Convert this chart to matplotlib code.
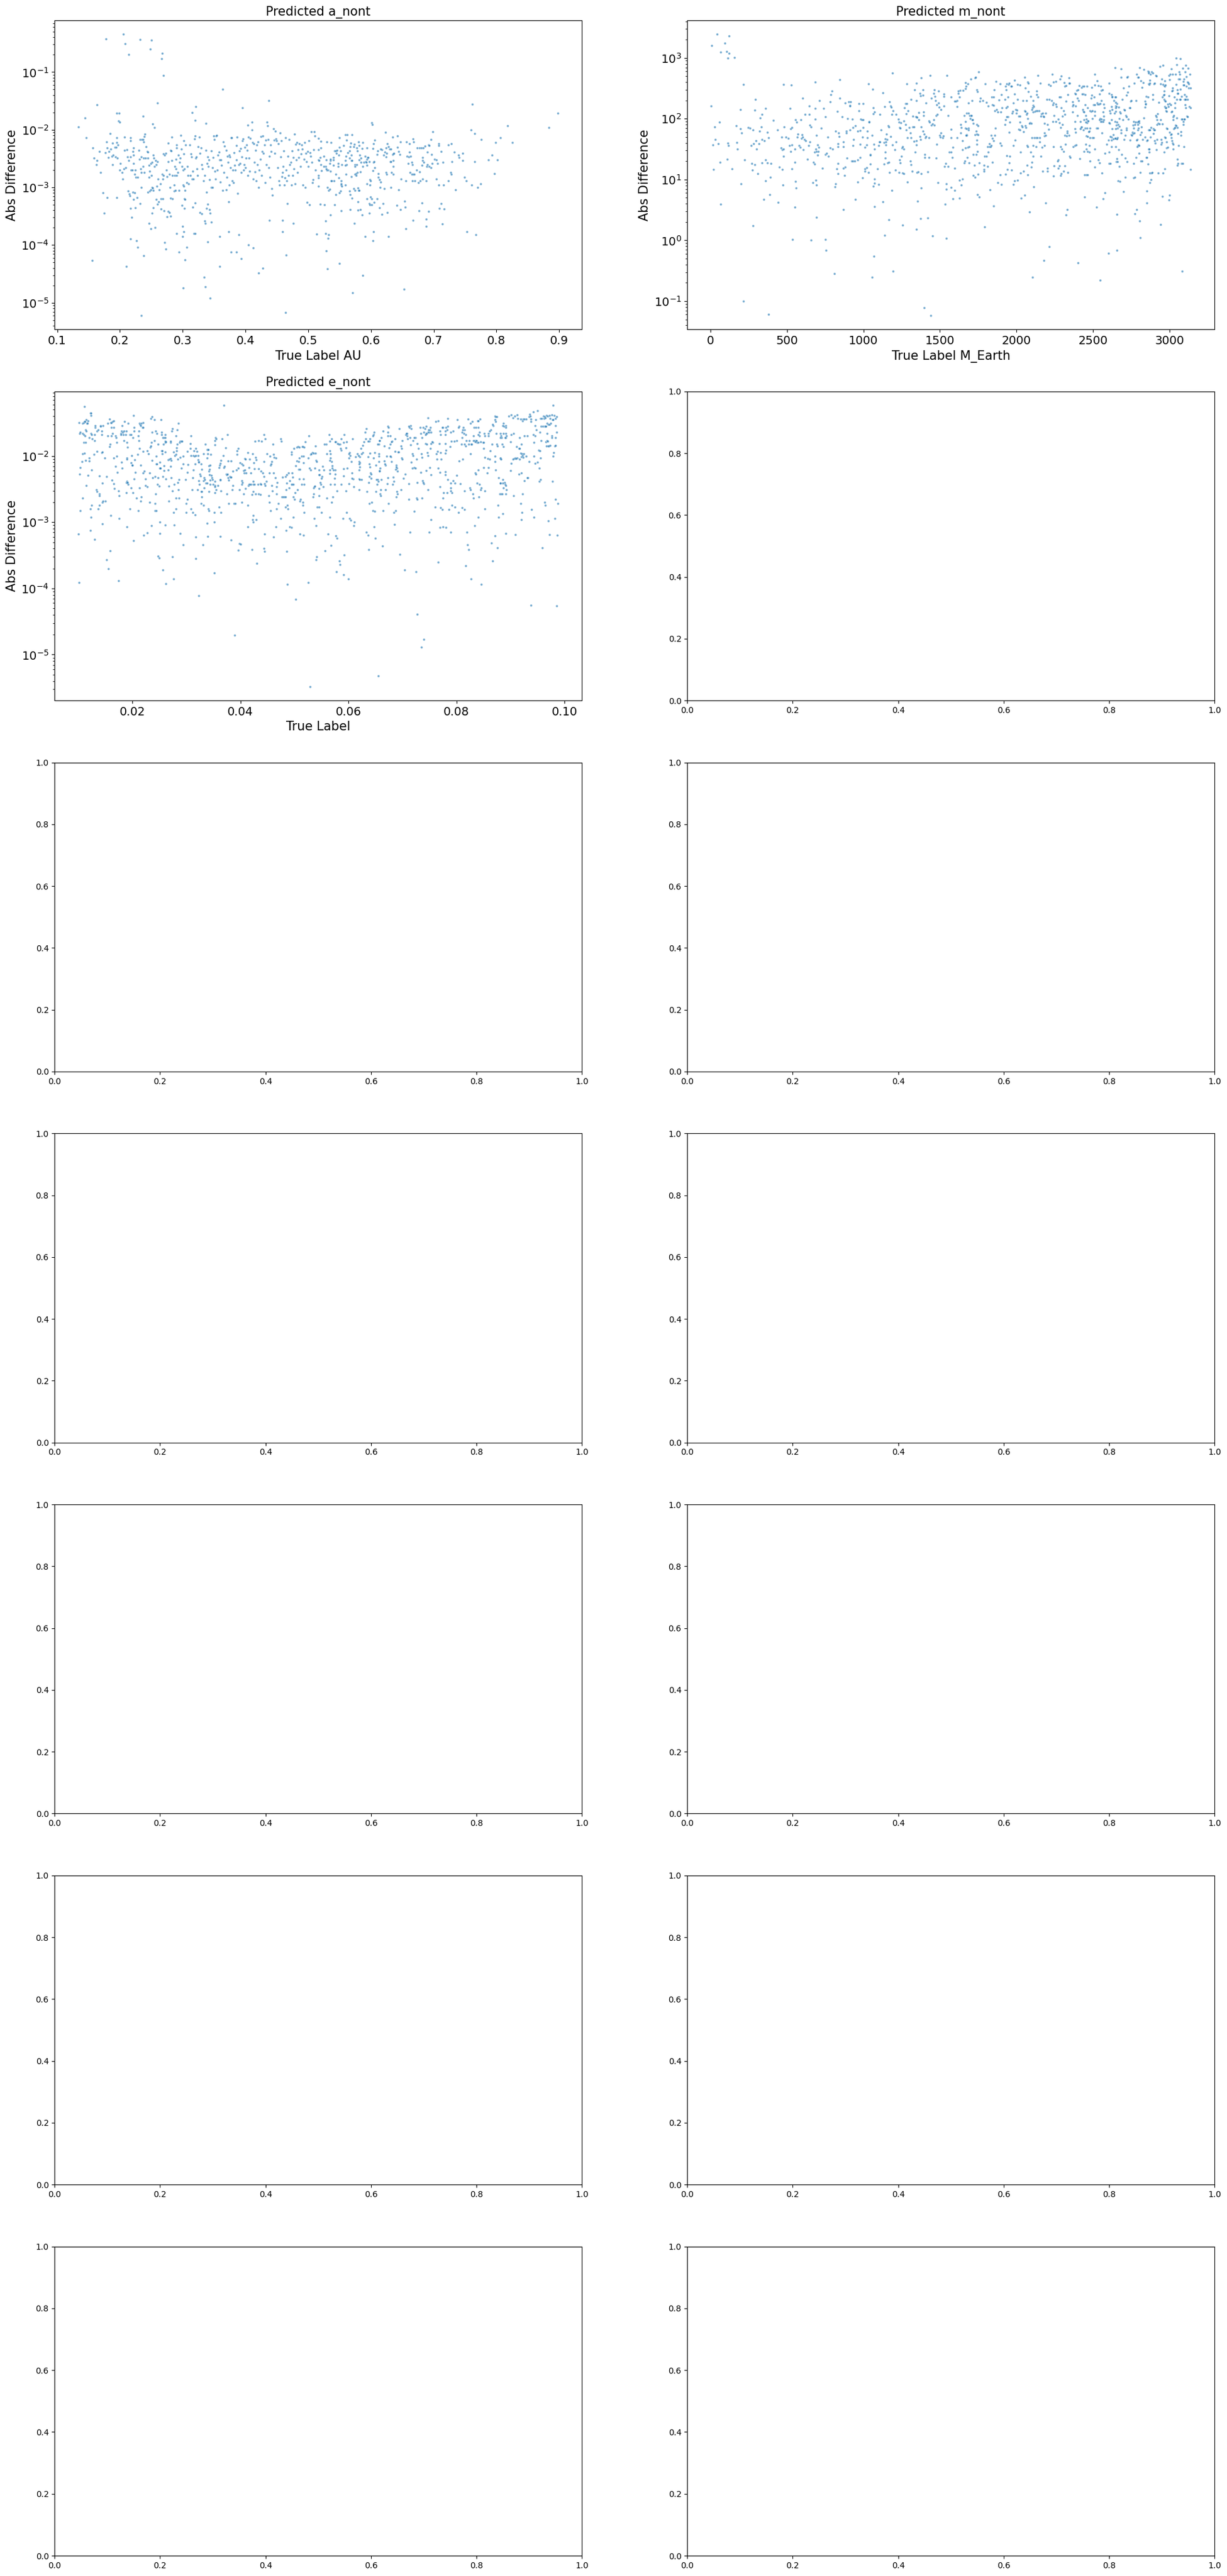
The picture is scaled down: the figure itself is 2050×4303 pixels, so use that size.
import matplotlib
matplotlib.use("Agg")
import matplotlib.pyplot as plt

# (true label, abs difference), one list per target
a_points = [
    (0.178,0.38),(0.205,0.45),(0.208,0.31),(0.214,0.20),(0.232,0.37),(0.250,0.36),(0.248,0.25),(0.267,0.21),
    (0.266,0.17),(0.269,0.087),(0.364,0.050),(0.437,0.032),(0.395,0.024),(0.260,0.029),(0.321,0.025),(0.315,0.020),
    (0.320,0.0147),(0.337,0.013),(0.163,0.027),(0.144,0.016),(0.134,0.0113),(0.146,0.0073),(0.195,0.0196),(0.199,0.0193),
    (0.198,0.0143),(0.200,0.0134),(0.237,0.0174),(0.252,0.0127),(0.255,0.011),(0.404,0.012),(0.410,0.0137),
    (0.156,5.4e-5),(0.210,4.3e-5),(0.234,6.0e-6),(0.238,6.5e-5),(0.217,1.28e-4),(0.226,1.2e-4),(0.228,9.2e-5),(0.175,3.6e-4),
    (0.173,8.1e-4),(0.180,6.7e-4),(0.195,6.6e-4),(0.169,1.8e-3),(0.271,1.1e-4),(0.273,8.5e-5),(0.294,7.5e-5),(0.306,9.1e-5),
    (0.304,5.5e-5),(0.301,1.8e-5),(0.334,2.8e-5),(0.336,1.9e-5),(0.344,1.2e-5),(0.359,4.3e-5),(0.340,1.13e-4),(0.377,7.5e-5),
    (0.386,7.5e-5),(0.393,5.8e-5),(0.405,1.0e-4),(0.412,8.9e-5),(0.421,3.3e-5),(0.428,4.0e-5),(0.464,6.7e-6),(0.465,6.7e-5),
    (0.459,1.7e-4),(0.459,2.7e-4),(0.438,2.7e-4),(0.476,2.4e-4),(0.513,1.55e-4),(0.359,1.4e-4),(0.373,1.7e-4),(0.389,1.5e-4),
    (0.318,1.6e-4),(0.320,1.6e-4),(0.290,1.6e-4),(0.300,2.1e-4),(0.302,1.7e-4),(0.300,1.4e-4),(0.249,1.9e-4),(0.256,2.0e-4),
    (0.246,2.4e-4),(0.219,3.0e-4),
    (0.157,4.8e-3),(0.159,3.2e-3),(0.162,2.5e-3),(0.163,2.9e-3),(0.167,4.2e-3),(0.177,4.0e-3),(0.179,6.2e-3),(0.180,4.8e-3),
    (0.182,4.2e-3),(0.181,3.3e-3),(0.184,8.7e-3),(0.185,4.6e-3),(0.187,3.5e-3),(0.188,5.8e-3),(0.188,2.5e-3),(0.189,3.6e-3),
    (0.192,5.0e-3),(0.193,3.4e-3),(0.194,5.0e-3),(0.195,7.3e-3),(0.195,6.0e-3),(0.197,5.5e-3),(0.196,3.2e-3),(0.200,2.0e-3),
    (0.201,2.6e-3),(0.203,1.8e-3),(0.204,1.4e-3),(0.207,7.4e-3),(0.207,4.4e-3),(0.206,2.1e-3),(0.209,2.2e-3),(0.211,4.5e-3),
    (0.212,3.4e-3),(0.214,2.9e-3),(0.217,7.3e-3),(0.217,6.5e-3),(0.217,3.4e-3),(0.218,2.0e-3),(0.213,8.7e-4),(0.215,7.7e-4),
    (0.216,7.2e-4),(0.217,4.3e-4),(0.220,2.0e-3),(0.221,4.2e-3),(0.222,4.8e-3),(0.222,3.6e-3),(0.222,2.6e-3),(0.223,1.7e-3),
    (0.224,2.0e-3),(0.225,1.5e-3),(0.221,8.3e-4),(0.223,8.0e-4),(0.222,6.2e-4),(0.224,4.4e-4),(0.227,6.7e-4),
    (0.228,1.5e-3),(0.230,4.4e-3),(0.231,3.1e-3),(0.232,6.7e-3),(0.233,2.1e-3),(0.234,1.8e-3),(0.234,3.4e-3),(0.234,1.0e-3),
    (0.232,5.3e-4),(0.235,6.8e-3),(0.237,6.8e-3),(0.238,6.2e-3),(0.239,7.6e-3),(0.240,8.4e-3),(0.237,2.3e-3),(0.238,3.2e-3),
    (0.239,1.8e-3),(0.241,3.2e-3),(0.242,5.1e-3),(0.243,4.2e-3),(0.244,4.1e-3),(0.244,3.2e-3),(0.246,2.4e-3),(0.247,1.9e-3),
    (0.246,1.5e-3),(0.244,8.3e-4),(0.247,8.7e-4),(0.249,9.0e-4),(0.251,1.0e-3),(0.253,8.9e-4),(0.252,9.8e-4),(0.250,1.6e-3),
    (0.249,2.6e-3),(0.251,2.7e-3),(0.253,3.6e-3),(0.254,3.2e-3),(0.255,2.3e-3),(0.257,2.9e-3),(0.258,2.5e-3),(0.260,2.8e-3),
    (0.259,1.05e-3),(0.261,1.4e-3),(0.262,5.6e-4),(0.258,6.2e-4),(0.260,5.1e-4),(0.251,3.6e-4),(0.253,4.4e-4),
    (0.263,9.0e-4),(0.264,1.15e-3),(0.267,1.7e-3),(0.268,1.4e-3),(0.265,6.4e-4),(0.268,6.4e-4),(0.265,4.2e-4),(0.270,3.9e-4),
    (0.269,1.6e-3),(0.269,3.8e-3),(0.271,3.6e-3),(0.273,3.9e-3),(0.274,2.0e-3),(0.275,1.55e-3),(0.277,5.8e-3),(0.277,2.8e-3),
    (0.279,1.7e-3),(0.280,1.0e-3),(0.281,4.4e-3),(0.282,4.3e-3),(0.283,2.9e-3),(0.283,7.4e-3),(0.284,1.6e-3),(0.286,1.1e-3),
    (0.286,8.7e-4),(0.287,1.6e-3),(0.287,2.3e-3),(0.288,8.9e-4),(0.289,2.1e-3),(0.290,5.5e-3),(0.290,4.9e-3),(0.289,3.1e-3),
    (0.290,1.6e-3),(0.281,6.5e-4),(0.284,6.4e-4),(0.277,3.8e-4),(0.279,3.7e-4),(0.281,3.2e-4),(0.275,3.1e-4),
    (0.292,1.8e-3),(0.293,3.6e-3),(0.294,8.8e-4),(0.295,2.7e-3),(0.296,3.2e-3),(0.297,8.0e-3),(0.298,4.6e-3),(0.299,2.3e-3),
    (0.301,2.0e-3),(0.301,1.1e-3),(0.302,1.05e-3),(0.302,6.4e-3),(0.302,3.8e-3),(0.303,2.1e-3),(0.304,8.8e-4),(0.305,5.5e-3),
    (0.306,1.2e-3),(0.307,2.3e-3),(0.308,1.6e-3),(0.309,1.15e-3),(0.311,5.5e-3),(0.312,1.6e-3),(0.313,3.8e-3),(0.314,3.4e-3),
    (0.315,1.4e-3),(0.316,1.9e-3),(0.317,1.4e-3),(0.319,6.9e-3),(0.320,7.8e-3),(0.321,3.2e-3),(0.322,3.4e-3),(0.323,2.1e-3),
    (0.324,1.6e-3),(0.303,6.4e-4),(0.304,6.2e-4),(0.299,4.9e-4),(0.303,4.3e-4),(0.316,4.5e-4),(0.320,5.4e-4),
    (0.325,5.1e-3),(0.326,7.4e-3),(0.327,3.9e-3),(0.329,4.9e-3),(0.330,2.5e-3),(0.331,2.1e-3),(0.333,1.3e-3),(0.335,1.6e-3),
    (0.327,3.7e-4),(0.330,3.5e-4),(0.335,2.6e-4),(0.336,2.4e-4),(0.338,4.3e-4),(0.340,5.1e-4),(0.343,4.1e-4),(0.344,3.6e-4),
    (0.346,2.5e-4),(0.337,4.4e-3),(0.338,8.3e-4),(0.339,2.6e-3),(0.340,3.4e-3),(0.341,2.3e-3),(0.342,3.0e-3),(0.343,1.35e-3),
    (0.346,1.0e-3),(0.347,9.9e-4),(0.346,4.3e-3),(0.347,2.2e-3),(0.348,3.3e-3),(0.349,7.9e-3),(0.350,6.7e-3),(0.351,1.9e-3),
    (0.352,1.4e-3),(0.353,7.8e-3),(0.354,8.0e-3),(0.355,2.0e-3),(0.356,3.6e-3),(0.358,4.1e-3),(0.359,3.0e-3),(0.360,1.25e-3),
    (0.361,3.0e-3),(0.362,2.4e-3),
    (0.364,8.8e-4),(0.365,6.2e-3),(0.366,1.8e-3),(0.367,5.2e-3),(0.369,9.0e-4),(0.369,4.4e-3),(0.370,1.5e-3),(0.371,3.5e-3),
    (0.372,2.7e-3),(0.373,5.6e-4),(0.374,3.6e-3),(0.374,1.1e-3),(0.375,3.4e-3),(0.376,2.2e-3),(0.377,7.2e-3),(0.378,7.3e-3),
    (0.379,1.3e-3),(0.380,2.0e-3),(0.381,1.2e-3),(0.382,4.0e-3),(0.383,2.4e-3),(0.384,2.0e-3),(0.386,3.0e-3),(0.386,5.3e-3),
    (0.387,7.4e-3),(0.388,7.8e-4),(0.389,2.5e-3),(0.390,4.3e-3),(0.391,2.6e-3),(0.392,4.7e-3),(0.393,1.8e-3),(0.394,3.4e-3),
    (0.395,6.4e-3),(0.396,7.0e-3),(0.397,2.0e-3),(0.398,2.5e-3),(0.399,5.0e-3),(0.400,2.2e-3),(0.401,3.2e-3),
    (0.402,5.4e-3),(0.403,4.4e-3),(0.404,1.6e-3),(0.405,7.5e-3),(0.406,3.2e-3),(0.407,1.9e-3),(0.408,7.1e-3),(0.410,1.0e-2),
    (0.411,6.0e-3),(0.412,1.4e-3),(0.413,5.7e-3),(0.414,2.7e-3),(0.415,1.85e-3),(0.416,4.4e-3),(0.417,1.3e-3),(0.418,5.5e-3),
    (0.419,2.5e-3),(0.420,6.1e-3),(0.421,1.0e-3),(0.422,2.0e-3),(0.424,3.1e-3),(0.425,7.6e-3),(0.426,1.6e-3),(0.427,4.2e-3),
    (0.428,7.9e-3),(0.429,3.9e-3),(0.430,5.4e-3),(0.431,1.2e-3),(0.432,6.6e-3),(0.433,2.5e-3),(0.434,1.37e-2),(0.435,1.18e-2),
    (0.436,6.8e-3),(0.437,2.2e-3),(0.438,3.5e-3),(0.439,1.5e-3),(0.440,5.4e-3),(0.441,4.2e-3),(0.442,9.5e-4),(0.443,7.3e-4),
    (0.445,1.05e-2),(0.446,6.6e-3),(0.447,3.9e-3),(0.448,9.4e-3),(0.449,6.9e-3),(0.450,6.5e-3),(0.451,2.2e-3),(0.452,5.7e-3),
    (0.453,1.3e-3),(0.454,1.1e-3),(0.455,8.8e-3),(0.456,3.4e-3),(0.457,6.5e-3),(0.458,1.55e-3),(0.459,1.8e-3),(0.460,2.3e-3),
    (0.461,4.3e-3),(0.462,1.1e-3),(0.463,1.45e-3),(0.464,7.3e-3),(0.465,2.0e-3),(0.466,1.3e-3),(0.467,5.3e-4),(0.468,3.5e-3),
    (0.469,1.6e-3),(0.470,6.7e-3),(0.471,2.5e-3),(0.472,2.7e-3),(0.473,1.1e-3),(0.474,4.3e-3),(0.475,1.6e-3),(0.476,3.3e-3),
    (0.477,2.1e-3),(0.478,8.4e-3),(0.479,1.15e-3),(0.480,5.6e-3),
    (0.481,3.0e-3),(0.482,6.0e-3),(0.483,1.8e-3),(0.484,4.5e-3),(0.485,3.3e-3),(0.486,5.7e-3),(0.488,2.3e-3),(0.489,3.8e-3),
    (0.490,5.5e-3),(0.491,4.6e-3),(0.492,1.1e-3),(0.493,3.1e-3),(0.494,6.0e-3),(0.495,1.0e-3),(0.496,3.9e-3),(0.497,2.8e-3),
    (0.498,5.5e-4),(0.499,4.2e-3),(0.500,2.3e-3),(0.501,6.5e-3),(0.502,5.0e-4),(0.503,4.0e-3),(0.504,3.5e-3),(0.505,9.2e-3),
    (0.506,2.7e-3),(0.507,1.2e-3),(0.508,1.35e-3),(0.509,4.5e-3),(0.510,9.3e-3),(0.511,7.9e-3),(0.512,2.0e-3),
    (0.762,0.028),(0.898,0.0196),(0.818,0.0118),(0.884,0.011),(0.760,0.010),(0.765,0.0087),(0.776,0.0067),(0.806,0.0073),
    (0.799,0.0060),(0.825,0.0060),(0.793,0.0036),(0.787,0.0030),(0.802,0.0030),(0.765,0.0028),(0.797,0.00175),(0.749,0.0015),
    (0.752,0.0013),(0.761,0.0011),(0.770,0.0010),(0.775,0.00115),(0.735,0.0009),(0.753,1.7e-4),(0.767,1.5e-4),
    (0.601,0.0133),(0.602,0.0124),(0.699,0.0093),(0.696,0.0067),(0.728,0.0057),(0.723,0.0055),(0.708,0.0057),(0.708,0.0053),
    (0.733,0.0041),(0.740,0.0036),(0.741,0.0033),(0.746,0.0039),(0.746,0.0029),(0.729,0.0028),(0.712,0.0042),(0.715,0.0027),
    (0.727,0.0018),(0.728,0.0017),(0.723,0.0013),(0.716,0.0011),(0.708,0.0011),(0.704,0.0014),(0.706,0.0026),(0.701,0.0031),
    (0.704,0.0030),(0.697,0.0037),(0.692,0.0055),(0.693,0.0053),(0.686,0.0052),(0.690,0.0041),(0.674,0.0049),(0.678,0.0049),
    (0.680,0.0049),(0.683,0.0049),(0.682,0.0033),(0.682,0.0029),(0.684,0.0027),(0.689,0.0023),(0.693,0.0023),(0.696,0.0022),
    (0.690,0.0025),(0.698,0.0026),(0.681,0.0024),(0.678,0.00185),(0.673,0.0020),(0.676,0.0012),(0.679,0.0013),(0.682,0.0014),
    (0.688,0.0013),(0.681,5.4e-4),(0.677,3.9e-4),(0.692,3.8e-4),(0.688,2.8e-4),(0.688,2.1e-4),(0.667,2.7e-4),(0.656,1.9e-4),
    (0.709,4.3e-4),(0.712,5.2e-4),(0.717,4.2e-4),(0.714,2.3e-4),
    (0.657,0.0061),(0.661,0.0057),(0.667,0.0069),(0.668,0.0061),(0.661,0.0041),(0.658,0.0035),(0.660,0.0034),(0.663,0.0035),
    (0.659,0.0026),(0.662,0.0018),(0.665,0.0027),(0.666,0.0025),(0.665,0.0017),(0.667,0.0017),(0.669,0.0017),(0.656,0.0013),
    (0.666,0.0013),(0.670,0.0013),(0.648,0.0014),(0.644,9.0e-4),(0.654,5.8e-4),(0.655,4.5e-4),(0.641,4.9e-4),(0.647,4.1e-4),
    (0.635,0.0075),(0.642,0.0078),(0.647,0.0062),(0.623,0.0090),(0.626,0.0057),(0.628,0.0051),(0.624,0.0048),(0.622,0.0041),
    (0.625,0.0039),(0.624,0.0034),(0.630,0.0046),(0.632,0.0046),(0.635,0.0037),(0.636,0.0038),(0.637,0.0039),(0.642,0.0050),
    (0.644,0.0042),(0.646,0.0037),(0.631,0.0028),(0.632,0.0028),(0.636,0.0029),(0.636,0.0023),(0.633,0.0018),(0.636,0.0017),
    (0.624,0.0018),(0.625,0.0017),(0.632,0.0010),(0.621,9.6e-4),(0.615,0.0010),(0.614,0.00135),(0.616,0.00125),(0.612,0.00175),
    (0.612,0.0015),(0.610,0.0037),(0.611,0.0043),(0.617,0.0045),(0.616,0.0046),(0.620,0.0036),(0.604,0.0057),(0.606,0.0066),
    (0.603,0.0047),(0.604,0.0027),(0.605,0.0028),(0.606,0.0022),(0.603,0.00195),(0.598,0.00135),(0.599,0.0013),(0.598,0.0011),
    (0.594,0.00115),(0.605,5.5e-4),(0.610,6.4e-4),(0.597,5.2e-4),(0.598,5.0e-4),(0.601,5.0e-4),(0.599,6.8e-4),(0.601,6.4e-4),
    (0.594,6.4e-4),(0.614,4.4e-4),(0.619,5.3e-4),(0.617,3.4e-4),(0.626,3.7e-4),(0.597,3.6e-4),(0.604,1.7e-4),(0.603,1.2e-4),
    (0.591,1.4e-4),(0.628,1.4e-4),(0.587,3.0e-5),(0.571,1.5e-5),(0.653,1.7e-5),(0.550,4.8e-5),(0.531,3.9e-5),(0.529,8.0e-5),
    (0.528,1.6e-4),(0.532,1.3e-4),(0.533,1.5e-4),(0.528,2.6e-4),(0.535,3.3e-4),(0.519,5.1e-4),(0.526,5.0e-4),(0.542,5.0e-4),
    (0.553,3.9e-4),(0.567,4.1e-4),(0.579,4.0e-4),(0.583,4.1e-4),(0.586,3.3e-4),(0.574,2.4e-4),(0.579,5.6e-4),(0.570,6.5e-4),
    (0.567,7.5e-4),(0.566,8.7e-4),(0.544,7.5e-4),(0.550,8.1e-4),(0.552,8.7e-4),(0.533,8.8e-4),(0.534,9.3e-4),(0.531,1.0e-3),
    (0.553,1.1e-3),(0.554,1.05e-3),(0.553,1.15e-3),(0.559,1.1e-3),(0.549,1.45e-3),(0.553,1.3e-3),(0.544,1.7e-3),(0.536,1.3e-3),
    (0.537,1.3e-3),(0.541,1.3e-3),(0.535,1.9e-3),(0.532,2.0e-3),(0.530,2.0e-3),(0.529,2.1e-3),(0.528,2.3e-3),(0.525,2.3e-3),
    (0.520,2.5e-3),(0.521,1.95e-3),(0.516,1.45e-3),(0.516,1.6e-3),(0.516,1.05e-3),(0.534,2.6e-3),(0.535,2.9e-3),(0.540,2.4e-3),
    (0.525,3.5e-3),(0.519,3.3e-3),(0.529,3.0e-3),(0.535,3.1e-3),(0.540,3.3e-3),(0.540,3.0e-3),(0.516,3.0e-3),(0.517,2.9e-3),
    (0.520,4.9e-3),(0.516,4.5e-3),(0.520,6.3e-3),(0.530,6.1e-3),(0.536,6.0e-3),(0.516,7.1e-3),(0.550,7.3e-3),(0.559,8.2e-3),
    (0.562,8.2e-3),(0.570,8.2e-3),(0.561,6.6e-3),(0.556,5.3e-3),(0.568,5.8e-3),(0.567,5.1e-3),(0.573,5.1e-3),(0.574,5.6e-3),
    (0.580,6.1e-3),(0.587,6.0e-3),(0.581,5.3e-3),(0.577,4.8e-3),(0.586,4.7e-3),(0.594,4.9e-3),(0.542,4.3e-3),(0.544,4.3e-3),
    (0.546,4.4e-3),(0.552,4.3e-3),(0.545,3.9e-3),(0.549,3.6e-3),(0.550,5.0e-3),(0.563,4.0e-3),(0.566,4.3e-3),(0.560,3.5e-3),
    (0.566,3.2e-3),(0.569,3.6e-3),(0.569,2.9e-3),(0.570,2.9e-3),(0.578,4.3e-3),(0.582,3.6e-3),(0.584,3.2e-3),(0.581,3.0e-3),
    (0.584,2.7e-3),(0.589,2.7e-3),(0.591,3.5e-3),(0.592,2.8e-3),(0.593,2.75e-3),(0.594,3.1e-3),(0.595,3.3e-3),(0.596,3.3e-3),
    (0.597,2.8e-3),(0.559,2.9e-3),(0.561,2.5e-3),(0.559,2.4e-3),(0.554,2.5e-3),(0.548,2.6e-3),(0.548,2.3e-3),(0.575,2.5e-3),
    (0.575,2.3e-3),(0.577,2.5e-3),(0.587,2.3e-3),(0.583,1.85e-3),(0.578,1.8e-3),(0.576,1.75e-3),(0.575,1.7e-3),(0.576,1.6e-3),
    (0.569,1.55e-3),(0.560,1.7e-3),(0.594,2.4e-3),(0.573,9.5e-4),(0.575,8.8e-4),(0.579,9.8e-4),(0.580,8.8e-4),(0.581,8.9e-4),
]

m_points = [
    (44,2440),(123,2280),(9,1620),(95,1740),(68,1245),(107,1290),(123,1205),(115,985),(158,1030),
    (216,365),(5,164),(478,365),(529,360),(686,406),(846,445),(604,220),(295,206),(197,143),(291,140),(361,147),(338,117),
    (326,102),(412,95),(521,147),(60,87),(29,74),(169,76),(197,68),(205,59),(33,46),(17,37),(52,39),(115,40),(119,36),
    (173,41),(177,32),(64,19.4),(111,21.8),(21,14.8),(142,15.1),(201,8.6),(68,3.9),(224,21.3),(248,72),(259,70),(279,66),
    (267,36),(283,39),(299,44),(318,39),(302,32),(322,62),(334,74),(338,46),(353,44),(373,60),(381,49),(271,18.6),(291,17.5),
    (275,14.2),(310,12.6),(338,19),(361,21.3),(373,19),(396,18.6),(361,9.6),(392,11.0),(349,4.7),(388,5.7),(443,4.2),
    (279,1.75),(553,3.5),(216,0.10),(381,0.061),(537,1.04),(658,1.02),(752,1.04),(756,0.68),(694,2.4),(811,0.286),(869,3.2),
    (948,4.7),(1069,0.55),(1057,0.25),(1073,3.6),(1194,0.31),(1128,4.3),(1167,2.2),(1139,1.22),(1257,1.8),(1347,1.53),
    (1374,2.3),(1421,2.35),(1452,1.17),(1542,1.09),(1397,0.077),(1440,0.058),(1354,4.4),(1534,3.9),(1378,7.2),(1487,9.0),
    (1542,7.0),(1186,6.7),
    (439,66),(467,50),(463,33),(471,31),(478,32),(478,24.4),(451,15.9),(471,14.8),(475,8.2),(482,74),(494,50),(510,48),
    (518,36),(525,29),(533,37),(525,68),(533,72),(557,96),(565,88),(572,56),(568,50),(553,32),(553,19.4),(533,15.1),(557,9.4),
    (561,7.2),(592,96),(580,36),(588,34),(596,48),(604,50),(600,55),(615,46),(623,44),(608,31),(643,36),(650,42),(619,117),
    (647,164),(647,119),(650,78),(658,74),(635,21.8),(674,19.4),(682,18),(670,9.0),(690,9.8),(694,8.2),(686,147),(686,99),
    (694,54),(701,37),(709,34),(690,32),(682,28.5),(694,29),(705,29),(701,25),(713,197),(725,70),(740,147),(752,109),
    (733,15.5),(752,26),(760,27),(772,24),(768,50),(783,33),(783,189),(787,248),(795,289),(799,32),(819,62),(831,133),
    (838,58),(842,51),(834,39),(834,35),(826,15.1),(834,18.6),(834,12.6),(815,7.6),(819,8.6),(846,216),(862,107),(870,42),
    (870,35),(870,15.5),(881,15.9),(877,11.6),(881,183),(889,62),(889,59),(893,22.6),(897,100),(905,190),(912,165),(912,162),
    (916,190),(912,65),(924,20),(928,99),(932,20),(944,20),(932,72),(936,46),(932,36),(948,77),(963,63),(963,21.3),(963,9.2),
    (971,176),(971,135),(979,64),(979,38),(979,23),(983,99),(991,97),(999,97),(995,50),(999,176),(999,72),(995,10.6),
    (1010,34),(1010,15),(1010,13.6),(1022,37),(1026,62),(1026,49),(1022,15.8),(1034,13.1),(1034,372),(1038,90),(1038,88),
    (1046,26),(1046,25),(1046,18),(1057,54),(1061,305),(1065,152),(1065,122),(1073,130),(1069,38),(1073,32),(1065,7.8),
    (1073,10.2),(1073,8.7),(1092,15.1),(1100,8.3),(1100,36),(1104,42),(1108,42),(1108,117),(1116,65),(1128,270),(1139,160),
    (1135,41),(1135,18),(1143,28),(1143,22.8),(1143,47),(1147,42),(1147,37),(1151,56),(1155,46),(1163,76),(1167,74),
    (1159,19),(1167,19.4),(1171,13.1),(1171,190),(1178,164),(1182,155),(1186,117),(1178,51),(1190,37),(1194,135),(1190,570),
    (1206,31),(1210,14.2),(1214,117),(1214,42),(1229,99),(1233,88),(1237,71),(1241,70),(1233,13.1),(1245,86),(1237,21.3),
    (1241,19),(1249,24),(1253,33),(1257,35),(1264,32),(1257,12.8),(1264,12.5),(1264,93),(1268,152),(1276,176),(1284,176),
    (1280,122),(1280,66),(1276,80),(1288,49),(1284,372),(1288,9.2),(1292,135),(1300,72),(1308,20),(1311,17.5),(1308,59),
    (1311,49),(1311,206),(1319,13.6),(1323,74),(1331,74),(1323,111),(1331,43),(1335,300),(1339,28),(1343,108),(1347,109),
    (1347,201),(1347,388),(1347,44),(1347,37),(1351,13.1),(1358,13.4),(1351,105),(1362,96),(1362,127),(1370,264),(1374,240),
    (1378,466),(1378,74),(1370,51),(1374,46),(1378,12.5),(1390,300),(1390,243),(1394,129),(1394,112),(1390,63),(1397,56),
    (1401,26),(1401,23.3),(1405,49),(1409,183),(1409,51),(1421,13.4),(1429,93),(1433,88),(1429,49),(1429,23.3),(1437,521),
    (1445,78),(1445,220),(1452,82),(1464,78),(1460,264),(1468,233),(1460,96),(1464,300),(1472,197),(1476,114),(1480,169),
    (1484,117),(1492,183),(1480,38),(1476,22.8),(1495,155),(1507,143),(1492,288),(1499,54),(1503,50),(1507,59),(1519,49),
    (1523,52),(1524,255),(1524,233),(1527,164),(1531,16.5),(1554,16.3),(1538,18.6),(1542,8.5),(1546,510),(1554,112),(1562,28),
    (1753,597),(1730,466),(1734,477),(1702,446),(1683,372),(1667,390),(1671,340),(1667,310),(1651,290),(1632,290),(1620,285),
    (1620,260),(1628,226),(1612,197),(1604,193),(1597,193),(1612,160),(1573,226),(1741,296),(1745,280),(1765,216),(1761,193),
    (1780,197),(1796,372),(1804,188),(1816,164),(1839,230),(1851,226),(1855,296),(1866,415),(1894,372),(1902,250),(1886,203),
    (1843,170),(1851,166),(1859,135),(1870,141),(1878,128),(1898,128),(1906,150),(1925,206),(1929,340),(1937,372),(1933,300),
    (1949,363),(1953,380),(1964,340),(1968,345),(1945,226),(1941,160),(1933,152),(1945,107),(1937,107),(1929,97),(1925,81),
    (1956,87),(1953,60),(1988,434),(1988,255),(1980,180),(1976,131),(1972,125),(1999,125),(1996,141),(2003,139),(2007,206),
    (2007,363),(2023,355),(2015,110),(2023,110),(2023,88),(2015,67),(2023,65),(2035,76),(2039,74),(2043,197),(2066,197),
    (2054,477),(2058,322),(2054,135),(2058,131),(2066,117),(2070,125),(2046,61),(2058,76),(2062,72),(2074,406),(2078,388),
    (2078,280),(2093,233),(2089,86),(2085,84),(2097,84),(2074,100),(2109,197),(2109,166),(2113,160),(2105,152),(2101,141),
    (2132,285),(2132,250),(2140,226),(2109,128),(2121,131),(2128,135),(2136,135),(2148,135),(2156,388),(2140,510),(2160,110),
    (2176,110),(2179,107),(2164,122),(2172,125),(2183,84),(2191,125),(2199,208),(2215,206),(2203,80),(2211,67),(2183,52),
    (2191,53),(2183,59),(2234,545),(2242,406),(2258,415),(2211,363),(2222,350),(2230,197),(2242,180),(2238,170),(2258,173),
    (2262,160),(2246,112),(2238,91),(2258,91),(2273,99),(2285,455),(2293,505),(2312,397),(2316,340),(2324,352),(2344,380),
    (2348,388),(2344,472),(2289,230),(2281,226),(2293,150),(2308,135),(2316,117),(2301,110),(2281,86),(2289,72),(2301,80),
    (2324,193),(2336,250),(2332,62),(2332,59),(2316,53),(2344,53),(2367,190),(2367,162),(2371,170),(2367,128),(2383,264),
    (2387,258),(2395,290),(2402,300),(2398,216),(2406,197),(2387,162),(2383,89),(2383,68),(2387,60),(2398,112),(2418,89),
    (2422,72),(2426,74),(2418,68),(2410,352),(2426,330),(2434,340),(2442,345),(2461,345),(2438,255),(2430,258),(2449,250),
    (2434,141),(2438,131),(2442,128),(2449,170),(2465,152),(2453,112),(2457,99),(2465,93),(2469,93),(2461,86),(2453,88),
    (2442,96),(2438,66),(2449,70),(2461,70),(2481,70),(2477,62),(2473,61),(2457,52),(2465,51),(2481,49),(2496,49),(2504,49),
    (2481,135),(2488,131),(2496,135),(2492,243),(2488,216),(2504,170),(2512,170),(2512,131),(2512,112),(2496,100),(2492,330),
    (2508,226),(2512,355),(2512,545),(2527,420),(2527,180),(2531,173),(2539,173),(2547,176),(2543,258),(2535,352),(2551,345),
    (2555,290),(2563,300),(2555,197),(2547,100),(2555,99),(2559,91),(2543,97),(2551,89),(2568,89),(2571,97),(2559,59),
    (2571,110),(2575,152),(2568,128),(2571,173),(2524,70),(2531,70),
    (2606,388),(2606,264),(2621,250),(2625,233),(2625,226),(2621,160),(2625,141),(2610,135),(2614,125),(2621,97),(2610,84),
    (2606,86),(2625,68),(2621,50),(2614,51),(2633,55),(2637,197),(2645,230),(2645,700),(2649,226),(2649,164),(2653,160),
    (2649,150),(2657,176),(2649,188),(2641,125),(2649,131),(2645,89),(2657,88),(2653,78),(2661,70),(2649,68),(2653,48),
    (2649,48),(2665,80),(2672,75),(2661,49),(2657,47),(2669,155),(2676,128),(2680,125),(2672,100),(2684,655),(2684,487),
    (2684,66),(2684,59),(2692,206),(2696,97),(2700,320),(2704,141),(2707,139),(2704,46),(2711,53),(2715,112),(2719,107),
    (2719,243),(2727,275),(2727,497),(2723,487),(2719,70),(2719,65),(2731,99),(2735,340),(2739,152),(2743,150),(2747,193),
    (2743,45),(2750,197),(2750,55),(2754,54),(2758,60),(2762,57),(2762,78),(2766,70),(2766,91),(2770,59),(2770,388),(2774,80),
    (2778,88),(2782,197),(2786,535),(2789,88),(2793,477),(2797,477),(2793,66),(2797,70),(2801,86),(2801,93),(2797,89),
    (2793,81),(2789,46),(2793,36),(2797,37),(2801,36),(2805,700),(2809,55),(2813,420),(2817,74),(2817,60),(2821,330),
    (2825,46),(2829,397),(2833,640),(2833,104),(2840,193),(2844,176),(2846,173),(2840,50),(2840,155),(2848,233),(2852,44),
    (2856,45),(2860,610),(2862,585),(2864,565),(2860,230),(2864,372),(2868,363),(2872,380),(2864,65),(2868,66),(2872,65),
    (2864,32),(2868,32),(2872,434),(2876,545),(2876,50),(2880,72),(2883,585),(2891,570),(2895,68),(2899,66),(2903,66),
    (2891,250),(2895,57),(2891,206),(2899,372),(2903,388),(2911,520),(2915,505),(2915,107),(2911,112),(2919,97),(2919,80),
    (2926,84),(2934,83),(2919,46),(2915,31),(2907,40),(2903,44),(2922,122),(2930,188),(2938,720),(2942,372),(2942,97),
    (2946,46),(2946,38),(2950,41),(2950,455),(2954,82),(2954,230),(2958,750),(2958,363),(2962,243),(2966,250),(2966,352),
    (2970,340),(2966,285),(2970,420),(2974,355),(2966,206),(2970,197),(2974,193),(2970,160),(2974,152),(2978,152),(2978,135),
    (2982,131),(2966,28),(2970,50),(2974,49),(2970,15.1),(2982,70),(2985,68),(2982,42),(2982,33),(2989,34),(2989,173),
    (2993,160),(2997,510),(3001,445),(3005,535),(2997,240),(3001,176),(3008,170),(3001,60),(3008,55),(3012,56),(3012,128),
    (3016,131),(3012,655),(3020,545),(3020,322),(3020,290),(3016,285),(3024,97),(3024,107),(3028,112),(3012,49),(3016,44),
    (3020,40),(3024,32),(3024,38),(3028,68),(3032,70),(3036,71),(3032,226),(3036,180),(3036,150),(3040,78),(3044,76),
    (3040,535),(3044,363),(3048,206),(3048,103),(3052,296),(3052,262),(3056,262),(3044,985),(3048,770),(3052,72),(3056,57),
    (3060,446),(3060,36),(3052,21.8),(3056,18.6),(3052,17.0),(3064,597),(3068,446),(3068,535),(3072,965),(3072,305),
    (3068,206),(3072,206),(3075,53),(3075,61),(3079,99),(3083,99),(3079,233),(3079,18.6),(3087,18.6),(3087,670),(3091,355),
    (3095,355),(3091,415),(3095,446),(3091,91),(3091,81),(3095,99),(3099,99),(3095,35),(3099,206),(3102,206),(3107,206),
    (3102,585),(3107,750),(3110,490),(3110,340),(3099,250),(3102,170),(3107,152),(3110,233),(3114,110),(3118,107),(3118,206),
    (3118,406),(3122,397),(3126,372),(3126,322),(3130,160),(3134,535),(3138,322),(3138,150),(3138,14.8),(3122,670),
    (1585,4.8),(1597,6.7),(1628,4.9),(1628,9.8),(1640,8.2),(1647,10.3),(1573,28),(1585,34),(1581,23.3),(1597,15.5),(1573,7.4),
    (1573,67),(1573,49),(1612,49),(1647,44),(1636,58),(1640,71),(1636,80),(1647,31),(1659,19),(1663,20.3),(1667,33),(1675,55),
    (1683,34),(1690,35),(1679,23),(1690,19),(1667,70),(1675,68),(1687,70),(1687,65),(1675,53),(1671,53),(1667,91),(1659,112),
    (1675,125),(1687,123),(1694,112),(1702,112),(1706,112),(1698,100),(1710,96),(1714,96),(1718,84),(1741,80),(1749,76),
    (1738,63),(1710,197),(1687,183),(1730,55),(1741,56),(1749,55),(1741,45),(1741,38),(1745,29),(1718,26),(1738,26),(1726,17.2),
    (1718,11.8),(1730,10.8),(1749,12.3),(1757,19),(1745,5.7),(1757,5.2),(1792,1.68),(1827,6.8),(1851,3.7),(1788,17.2),
    (1788,14.8),(1788,13.6),(1792,24),(1804,24),(1812,16.5),(1812,35),(1824,39),(1816,28),(1824,35),(1831,35),(1835,36),
    (1843,19.4),(1835,53),(1843,48),(1851,44),(1859,53),(1862,70),(1878,9.0),(1902,8.4),(1894,11.9),(1929,12.2),(1894,40),
    (1902,36),(1937,24.5),(1956,24),(1941,14.8),(1968,14.2),(1953,19),(1980,8.4),(1988,9.6),(2007,9.8),(1980,36),(1992,45),
    (2027,28),(2027,12.8),(2046,13.6),(2031,4.9),(2054,5.5),(2070,17.2),(2074,11.9),(2085,2.95),(2093,28),(2101,19.4),
    (2097,16.0),(2109,24),(2113,7.6),(2105,0.25),(2070,36),(2074,35),(2101,49),(2117,49),(2128,49),(2136,49),(2152,49),
    (2109,36),(2128,35),(2152,42),(2168,34),(2183,36),(2160,24),(2172,13.8),(2203,15.5),(2203,13.7),(2191,4.1),(2179,0.47),
    (2215,0.78),(2242,35),(2246,16.8),(2242,11.3),(2273,15.5),(2281,16.8),(2273,21.3),(2269,20.3),(2289,35),(2297,32),
    (2289,11.6),(2293,12.4),(2308,29),(2316,16.8),(2308,13.7),(2320,38),(2328,52),(2324,2.6),(2332,3.2),(2336,13.1),
    (2348,24.4),(2352,23),(2371,35),(2383,36),(2391,37),(2402,0.43),(2414,22.2),(2445,5.2),(2441,29),(2445,11.9),(2457,11.9),
    (2465,11.9),(2453,38),(2457,32),(2465,29),(2477,36),(2477,28),(2481,20.3),(2512,32),(2512,16.0),(2524,3.5),(2535,21),
    (2543,19),(2547,0.22),(2559,12.8),(2567,4.8),(2578,6.1),(2578,27),(2590,38),(2602,45),(2606,28),(2606,18.3),(2614,18.6),
    (2602,0.62),(2621,35),(2621,45),(2633,47),(2645,48),(2649,35),(2657,22.2),(2653,19.8),(2661,19.8),(2669,31),(2672,16.5),
    (2665,9.6),(2676,9.4),(2657,2.7),(2657,0.68),(2688,26),(2700,6.3),(2711,10.8),(2711,22.6),(2723,19.8),(2766,18.3),
    (2766,10.6),(2774,11.0),(2774,2.76),(2786,3.24),(2782,23),(2786,45),(2789,35),(2805,2.1),(2809,1.11),(2809,13.2),(2813,20),
    (2821,20.3),(2801,27),(2848,23),(2852,23),(2852,4.1),(2852,6.5),(2860,17.8),(2868,28),(2872,12.8),(2883,12.8),(2887,13.1),
    (2872,9.0),(2880,10.0),(2926,12.8),(2958,12.8),(2942,1.84),(2954,5.3),(2997,4.6),(3001,5.5),(3083,0.31),
]

e_points = [
    (0.0111,0.056),(0.0369,0.058),(0.0389,1.97e-5),(0.0529,3.3e-6),(0.0100,6.6e-4),(0.0101,1.24e-4),(0.0130,5.5e-4),
    (0.0122,7.5e-4),(0.0107,2.3e-3),(0.0103,1.5e-3),(0.0158,3.7e-4),(0.0152,2.7e-4),(0.0155,2.0e-4),(0.0174,1.3e-4),
    (0.0202,5.3e-4),(0.0144,9.4e-4),(0.0160,1.26e-3),(0.0175,1.15e-3),(0.0190,8.6e-4),(0.0221,6.4e-4),(0.0227,6.9e-4),
    (0.0235,8.8e-4),(0.0247,3.1e-4),(0.0249,2.9e-4),(0.0256,1.9e-4),(0.0262,1.18e-4),(0.0250,6.8e-4),(0.0250,1.0e-3),
    (0.0261,9.0e-4),(0.0274,3.0e-4),(0.0276,1.4e-4),(0.0277,9.0e-4),(0.0288,6.8e-4),(0.0294,4.6e-4),(0.0317,6.0e-4),
    (0.0317,2.8e-4),(0.0323,7.8e-5),(0.0330,4.6e-4),(0.0338,9.6e-4),(0.0339,6.1e-4),(0.0351,1.0e-3),(0.0351,1.7e-4),
    (0.0362,6.1e-4),(0.0382,5.4e-4),(0.0396,3.8e-4),(0.0398,4.8e-4),(0.0400,4.7e-4),(0.0413,8.6e-4),(0.0421,3.9e-4),
    (0.0422,1.1e-3),(0.0424,1.26e-3),(0.0423,1.0e-3),(0.0430,2.4e-4),(0.0429,1.1e-3),(0.0444,4.0e-4),(0.0445,3.6e-4),
    (0.0445,6.6e-4),(0.0461,6.0e-4),(0.0466,8.6e-4),(0.0474,1.15e-3),(0.0486,3.6e-4),(0.0487,1.15e-4),(0.0485,7.5e-4),
    (0.0491,8.6e-4),(0.0495,8.4e-4),(0.0498,1.2e-3),(0.0502,6.8e-5),(0.0510,6.6e-4),(0.0517,6.4e-4),(0.0518,1.4e-3),
    (0.0525,1.24e-4),(0.0537,1.15e-3),(0.0540,8.8e-4),(0.0541,3.0e-4),(0.0540,2.7e-4),
    (0.0101,0.032),(0.0102,0.022),(0.0103,0.023),(0.0107,0.031),(0.0108,0.022),(0.0110,0.032),(0.0111,0.033),(0.0112,0.033),
    (0.0114,0.035),(0.0115,0.031),(0.0116,0.031),(0.0118,0.034),(0.0110,0.021),(0.0112,0.020),(0.0113,0.025),(0.0114,0.024),
    (0.0110,0.016),(0.0113,0.016),(0.0108,0.0107),(0.0111,0.0111),(0.0113,8.5e-3),(0.0106,8.2e-3),(0.0103,6.7e-3),
    (0.0102,5.3e-3),(0.0114,3.6e-3),(0.0117,5.1e-3),(0.0120,9.3e-3),(0.0120,8.4e-3),(0.0120,0.019),(0.0122,0.044),
    (0.0123,0.044),(0.0123,0.041),(0.0123,0.022),(0.0124,0.021),(0.0125,0.018),(0.0124,6.1e-3),(0.0122,1.6e-3),(0.0124,1.8e-3),
    (0.0123,1.2e-3),(0.0129,0.0105),(0.0130,0.017),(0.0130,0.021),(0.0131,0.027),(0.0131,0.029),(0.0134,0.024),(0.0136,0.025),
    (0.0134,0.0118),(0.0133,3.1e-3),(0.0134,2.9e-3),(0.0136,1.6e-3),(0.0138,2.7e-3),(0.0139,2.5e-3),(0.0139,5.0e-3),
    (0.0139,1.8e-3),(0.0141,0.029),(0.0141,0.028),(0.0143,0.024),(0.0143,0.021),(0.0143,0.0112),(0.0144,0.0114),(0.0145,0.029),
    (0.0144,3.9e-3),(0.0144,2.0e-3),(0.0145,2.1e-3),(0.0148,9.4e-3),(0.0150,2.1e-3),(0.0152,4.9e-3),(0.0154,0.031),
    (0.0154,0.020),(0.0157,0.036),(0.0157,0.014),(0.0158,0.015),(0.0160,0.032),(0.0161,0.032),(0.0161,0.020),(0.0161,0.027),
    (0.0162,4.3e-3),(0.0163,0.022),(0.0163,0.033),(0.0165,0.034),(0.0165,0.027),(0.0165,9.3e-3),(0.0165,3.8e-3),(0.0166,3.2e-3),
    (0.0168,7.0e-3),(0.0169,0.020),(0.0170,0.019),(0.0171,0.016),(0.0171,0.0099),(0.0172,5.7e-3),(0.0174,3.0e-3),
    (0.0175,2.5e-3),(0.0178,0.022),(0.0178,0.021),(0.0180,0.024),(0.0181,0.029),(0.0182,0.023),(0.0183,0.021),(0.0184,0.024),
    (0.0180,8.0e-3),(0.0181,6.6e-3),(0.0184,0.0171),(0.0185,0.033),(0.0187,0.021),(0.0188,0.024),(0.0188,4.0e-3),
    (0.0189,4.1e-3),(0.0190,4.0e-3),(0.0191,4.0e-3),(0.0188,2.8e-3),(0.0189,0.016),(0.0190,9.3e-3),(0.0190,8.9e-3),
    (0.0192,0.031),(0.0191,0.0136),(0.0192,3.7e-3),(0.0195,0.021),(0.0197,0.021),(0.0195,1.6e-3),(0.0197,3.3e-3),
    (0.0198,0.0102),(0.0197,7.9e-3),(0.0199,7.3e-3),(0.0200,7.3e-3),(0.0201,0.019),(0.0201,2.8e-3),(0.0202,0.041),
    (0.0203,0.027),(0.0203,0.024),(0.0203,4.5e-3),(0.0204,8.7e-3),(0.0205,5.7e-3),(0.0207,2.3e-3),(0.0209,0.0105),
    (0.0211,0.020),(0.0212,0.017),(0.0211,1.5e-3),(0.0213,0.031),(0.0214,0.030),(0.0215,0.029),(0.0216,0.031),(0.0219,0.032),
    (0.0218,0.027),(0.0219,0.027),(0.0212,0.024),(0.0213,0.013),(0.0213,3.3e-3),(0.0215,7.2e-3),(0.0215,2.1e-3),(0.0216,2.4e-3),
    (0.0219,5.6e-3),(0.0220,0.0118),(0.0222,5.9e-3),(0.0224,4.5e-3),(0.0224,3.6e-3),(0.0227,3.4e-3),(0.0227,0.0121),
    (0.0230,0.0109),(0.0232,5.6e-3),(0.0232,2.0e-3),(0.0233,0.0136),(0.0234,0.0142),(0.0234,0.037),(0.0236,0.039),
    (0.0235,0.016),(0.0236,0.023),(0.0236,8.5e-3),(0.0237,4.7e-3),(0.0240,0.035),(0.0240,0.017),(0.0242,4.9e-3),
    (0.0243,2.7e-3),(0.0242,1.9e-3),(0.0242,1.5e-3),(0.0244,1.5e-3),(0.0243,0.024),(0.0245,0.022),(0.0244,0.0099),
    (0.0244,7.6e-3),(0.0245,7.6e-3),(0.0246,3.7e-3),(0.0247,0.015),(0.0247,4.7e-3),(0.0249,3.5e-3),(0.0250,6.5e-3),
    (0.0251,6.5e-3),(0.0252,6.5e-3),(0.0251,8.1e-3),(0.0253,0.035),(0.0254,0.023),(0.0254,0.021),(0.0254,0.0121),
    (0.0255,0.0121),(0.0255,0.0108),(0.0256,0.019),(0.0258,0.019),(0.0261,0.019),(0.0256,4.9e-3),(0.0257,0.015),(0.0258,6.0e-3),
    (0.0258,7.1e-3),(0.0260,0.016),(0.0261,0.0167),(0.0262,0.0165),(0.0261,0.021),(0.0261,0.0116),(0.0262,4.5e-3),
    (0.0266,6.1e-3),(0.0267,2.1e-3),(0.0267,3.5e-3),(0.0266,8.8e-3),(0.0268,9.0e-3),(0.0270,9.2e-3),(0.0270,0.016),
    (0.0271,0.0166),(0.0271,7.0e-3),(0.0272,4.7e-3),(0.0272,8.5e-3),(0.0273,0.024),(0.0274,0.026),(0.0274,3.0e-3),
    (0.0276,0.0116),(0.0276,1.4e-3),(0.0277,3.7e-3),(0.0278,0.0102),(0.0281,0.0105),(0.0280,2.3e-3),(0.0281,1.6e-3),
    (0.0281,0.020),(0.0282,0.0133),(0.0282,0.0121),(0.0283,0.015),(0.0283,0.025),(0.0284,4.0e-3),(0.0284,8.9e-3),(0.0285,0.031),
    (0.0285,3.1e-3),(0.0286,2.3e-3),(0.0286,4.4e-3),(0.0287,0.016),(0.0288,0.0166),(0.0290,0.0168),(0.0292,0.0168),
    (0.0288,9.6e-3),(0.0290,6.5e-3),(0.0294,0.0099),(0.0294,7.5e-3),(0.0298,4.4e-3),(0.0299,1.9e-3),(0.0299,1.4e-3),
    (0.0301,0.0118),(0.0301,5.7e-3),(0.0302,2.2e-3),(0.0303,7.4e-3),(0.0307,0.0155),(0.0307,0.0131),(0.0308,0.020),
    (0.0308,0.0102),(0.0310,3.1e-3),(0.0308,1.6e-3),(0.0312,1.4e-3),(0.0312,4.7e-3),(0.0313,0.0102),(0.0314,0.0121),
    (0.0313,6.1e-3),(0.0315,0.0099),(0.0317,0.0102),(0.0317,0.0131),(0.0316,7.5e-3),(0.0316,1.3e-3),(0.0319,0.0118),
    (0.0320,3.1e-3),(0.0321,0.0102),(0.0322,8.8e-3),(0.0323,8.3e-3),(0.0323,8.0e-3),(0.0323,4.2e-3),(0.0324,3.7e-3),
    (0.0325,5.3e-3),(0.0326,5.0e-3),(0.0327,2.9e-3),(0.0328,2.9e-3),(0.0327,7.5e-3),(0.0328,6.3e-3),(0.0328,2.4e-3),
    (0.0327,1.9e-3),(0.0331,1.8e-3),(0.0331,0.0109),(0.0331,4.2e-3),(0.0333,4.7e-3),(0.0334,4.4e-3),(0.0333,3.3e-3),
    (0.0335,0.015),(0.0336,3.9e-3),(0.0338,0.0125),(0.0339,0.0125),(0.0340,0.0125),(0.0338,9.3e-3),(0.0339,0.0109),
    (0.0338,3.9e-3),(0.0340,1.6e-3),(0.0342,1.5e-3),(0.0342,7.1e-3),(0.0344,7.3e-3),(0.0342,5.9e-3),(0.0343,6.3e-3),
    (0.0342,2.9e-3),(0.0343,5.2e-3),(0.0344,3.7e-3),(0.0344,4.3e-3),(0.0345,0.0105),(0.0346,5.1e-3),(0.0347,4.7e-3),
    (0.0348,4.4e-3),(0.0349,3.7e-3),(0.0352,3.6e-3),(0.0352,3.4e-3),(0.0351,1.4e-3),(0.0352,0.017),(0.0352,0.0146),
    (0.0353,4.1e-3),(0.0354,0.019),(0.0355,0.018),(0.0355,3.1e-3),(0.0352,2.8e-3),(0.0358,3.6e-3),(0.0360,6.7e-3),
    (0.0361,7.3e-3),(0.0362,7.8e-3),(0.0360,1.7e-3),(0.0362,4.3e-3),(0.0363,4.4e-3),(0.0364,8.5e-3),(0.0364,3.0e-3),
    (0.0364,1.4e-3),(0.0366,0.018),(0.0368,0.0102),(0.0369,6.7e-3),(0.0370,6.9e-3),(0.0372,0.0133),(0.0374,5.3e-3),
    (0.0375,2.7e-3),(0.0375,5.2e-3),(0.0376,5.3e-3),(0.0376,0.021),(0.0377,4.7e-3),(0.0380,4.9e-3),(0.0381,4.8e-3),
    (0.0378,4.3e-3),(0.0378,1.9e-3),(0.0377,8.4e-3),(0.0383,4.8e-3),(0.0383,8.4e-3),(0.0385,3.1e-3),(0.0386,3.6e-3),
    (0.0386,5.9e-3),(0.0388,1.9e-3),(0.0390,1.9e-3),(0.0392,6.1e-3),(0.0394,0.0121),(0.0394,0.0105),(0.0396,0.0131),
    (0.0396,6.6e-3),(0.0398,3.1e-3),(0.0399,7.9e-3),(0.0402,7.5e-3),(0.0405,7.3e-3),(0.0402,4.2e-3),(0.0403,3.7e-3),
    (0.0404,4.0e-3),(0.0402,2.0e-3),(0.0406,6.0e-3),(0.0407,5.6e-3),(0.0408,6.1e-3),(0.0406,2.7e-3),(0.0409,3.2e-3),
    (0.0410,5.5e-3),(0.0408,9.2e-3),(0.0409,8.9e-3),(0.0413,0.0113),(0.0414,1.8e-3),(0.0415,3.6e-3),(0.0416,3.7e-3),
    (0.0417,3.7e-3),(0.0419,3.7e-3),(0.0424,3.7e-3),(0.0426,3.7e-3),(0.0416,6.7e-3),(0.0417,8.9e-3),(0.0419,5.5e-3),
    (0.0421,2.6e-3),(0.0422,0.0108),(0.0423,4.1e-3),(0.0424,2.9e-3),(0.0425,7.9e-3),(0.0426,6.4e-3),(0.0427,0.0168),
    (0.0428,2.7e-3),(0.0428,9.6e-3),(0.0429,8.8e-3),(0.0432,3.7e-3),(0.0433,6.4e-3),(0.0434,2.7e-3),(0.0437,2.6e-3),
    (0.0434,0.017),(0.0439,0.0168),(0.0438,5.9e-3),(0.0437,3.8e-3),(0.0438,3.7e-3),(0.0441,5.5e-3),(0.0443,4.9e-3),
    (0.0444,8.3e-3),(0.0444,0.021),(0.0446,0.018),(0.0445,3.8e-3),(0.0446,3.6e-3),(0.0448,4.1e-3),(0.0449,0.0108),
    (0.0453,5.5e-3),(0.0452,2.5e-3),(0.0453,2.0e-3),(0.0455,0.0099),(0.0456,7.3e-3),(0.0457,7.5e-3),(0.0458,8.3e-3),
    (0.0456,1.5e-3),(0.0458,3.6e-3),(0.0459,3.0e-3),(0.0460,0.015),(0.0461,0.0105),(0.0461,5.5e-3),(0.0462,9.6e-3),
    (0.0464,4.7e-3),(0.0466,9.4e-3),(0.0467,3.4e-3),(0.0467,2.7e-3),(0.0467,1.6e-3),(0.0468,4.0e-3),(0.0470,1.9e-3),
    (0.0474,0.018),(0.0476,0.0168),(0.0477,2.4e-3),(0.0479,2.4e-3),(0.0481,2.4e-3),(0.0483,2.4e-3),(0.0478,4.8e-3),
    (0.0483,4.9e-3),(0.0486,5.2e-3),(0.0485,3.1e-3),(0.0486,3.9e-3),(0.0483,1.7e-3),(0.0487,1.8e-3),(0.0488,1.6e-3),
    (0.0489,5.5e-3),(0.0490,3.3e-3),(0.0491,4.2e-3),(0.0494,0.0105),(0.0495,0.0116),(0.0494,3.7e-3),(0.0496,5.6e-3),
    (0.0497,4.8e-3),(0.0496,3.7e-3),(0.0498,3.7e-3),(0.0498,2.4e-3),(0.0499,0.0129),(0.0500,2.2e-3),(0.0501,2.8e-3),
    (0.0502,7.1e-3),(0.0504,0.0136),(0.0505,8.4e-3),(0.0506,3.1e-3),(0.0507,0.0139),(0.0508,8.2e-3),(0.0509,0.0136),
    (0.0508,6.3e-3),(0.0510,6.3e-3),(0.0509,9.3e-3),(0.0509,4.5e-3),(0.0510,2.1e-3),(0.0511,2.2e-3),(0.0513,0.0099),
    (0.0515,0.0139),(0.0516,0.0139),(0.0517,0.0099),(0.0518,0.0136),(0.0516,2.0e-3),(0.0516,1.8e-3),(0.0513,3.7e-3),
    (0.0517,7.9e-3),(0.0517,4.5e-3),(0.0518,3.7e-3),(0.0520,0.0165),(0.0525,9.3e-3),(0.0527,0.020),(0.0528,6.5e-3),
    (0.0530,0.0105),(0.0531,0.0109),(0.0530,6.1e-3),(0.0533,0.0113),(0.0536,0.0111),(0.0535,3.3e-3),(0.0537,3.4e-3),
    (0.0534,2.4e-3),(0.0536,2.7e-3),(0.0538,3.5e-3),(0.0539,0.0111),(0.0539,0.0142),(0.0540,8.5e-3),(0.0541,8.2e-3),
    (0.0538,6.5e-3),(0.0542,1.7e-3),
    (0.0979,0.058),(0.0950,0.0485),(0.0942,0.046),(0.0747,0.038),(0.0784,0.037),(0.0766,0.034),(0.0762,0.033),(0.0822,0.036),
    (0.0802,0.035),(0.0844,0.036),(0.0829,0.033),(0.0826,0.031),(0.0839,0.034),(0.0840,0.034),(0.0833,0.027),(0.0836,0.027),
    (0.0841,0.027),(0.0872,0.040),(0.0873,0.039),(0.0875,0.039),(0.0871,0.035),(0.0873,0.033),(0.0897,0.040),(0.0902,0.042),
    (0.0908,0.040),(0.0905,0.038),(0.0913,0.042),(0.0914,0.037),(0.0919,0.036),(0.0922,0.034),(0.0924,0.036),(0.0926,0.036),
    (0.0929,0.036),(0.0935,0.039),(0.0936,0.043),(0.0937,0.040),(0.0938,0.036),(0.0938,0.033),(0.0947,0.035),(0.0946,0.029),
    (0.0956,0.037),(0.0958,0.037),(0.0961,0.040),(0.0962,0.037),(0.0964,0.039),(0.0965,0.038),(0.0967,0.041),(0.0969,0.040),
    (0.0972,0.041),(0.0974,0.037),(0.0977,0.042),(0.0978,0.035),(0.0979,0.035),(0.0981,0.041),(0.0984,0.037),(0.0986,0.039),
    (0.0983,0.029),(0.0968,0.031),(0.0970,0.030),(0.0972,0.030),(0.0975,0.031),(0.0957,0.028),(0.0960,0.028),(0.0964,0.028),
    (0.0965,0.028),(0.0966,0.028),(0.0948,0.025),(0.0955,0.023),(0.0986,0.023),(0.0968,0.022),(0.0977,0.020),(0.0977,0.019),
    (0.0983,0.019),(0.0957,0.017),(0.0966,0.0165),(0.0968,0.017),(0.0969,0.0168),(0.0971,0.0142),(0.0970,0.0142),
    (0.0973,0.0145),(0.0967,0.0142),(0.0982,0.0142),(0.0944,0.016),(0.0953,0.0122),(0.0955,0.0121),(0.0956,9.3e-3),
    (0.0980,0.0113),(0.0979,0.0099),(0.0983,0.0145),(0.0954,6.6e-3),(0.0954,4.1e-3),(0.0956,4.4e-3),(0.0950,8.0e-3),
    (0.0946,7.8e-3),(0.0944,9.9e-3),(0.0935,8.3e-3),(0.0946,0.020),(0.0942,0.021),(0.0926,0.020),(0.0931,0.020),
    (0.0917,0.019),(0.0916,0.0129),(0.0920,0.015),(0.0917,0.0129),(0.0919,0.0111),(0.0921,0.0109),(0.0920,9.8e-3),
    (0.0922,0.0101),(0.0925,0.0107),(0.0929,0.0099),(0.0924,9.6e-3),(0.0912,0.0139),(0.0909,9.3e-3),(0.0907,9.1e-3),
    (0.0905,8.9e-3),(0.0906,0.022),(0.0901,0.021),(0.0900,0.0164),(0.0892,0.019),(0.0893,0.020),(0.0891,0.022),(0.0890,0.019),
    (0.0887,0.022),(0.0884,0.019),(0.0883,0.020),(0.0881,0.022),(0.0892,0.029),(0.0891,0.027),(0.0887,0.031),(0.0888,0.028),
    (0.0886,0.029),(0.0885,0.015),(0.0887,0.0139),(0.0881,9.1e-3),(0.0882,9.3e-3),(0.0883,8.9e-3),(0.0882,0.019),
    (0.0875,0.015),(0.0876,0.0142),(0.0874,0.022),(0.0872,9.9e-3),(0.0872,8.2e-3),(0.0873,6.1e-3),(0.0868,0.029),
    (0.0867,0.030),(0.0864,0.025),(0.0861,0.024),(0.0859,0.022),(0.0859,0.020),(0.0858,9.1e-3),(0.0861,8.9e-3),(0.0863,0.0121),
    (0.0866,0.015),(0.0852,0.022),(0.0853,0.020),(0.0853,9.6e-3),(0.0851,0.0131),(0.0849,0.016),(0.0850,0.016),(0.0843,0.023),
    (0.0843,0.020),(0.0845,0.0164),(0.0841,0.021),(0.0838,0.016),(0.0840,0.016),(0.0834,0.017),(0.0836,0.017),(0.0832,0.017),
    (0.0837,0.017),(0.0835,0.0164),(0.0832,0.020),(0.0827,0.015),(0.0828,0.015),(0.0826,0.0109),(0.0824,0.017),(0.0823,0.015),
    (0.0817,0.0142),(0.0815,0.015),(0.0817,0.021),(0.0818,0.017),(0.0815,0.025),(0.0814,0.022),(0.0813,0.027),(0.0812,0.025),
    (0.0811,0.023),(0.0810,0.019),(0.0809,0.015),(0.0805,0.028),(0.0804,0.027),(0.0801,0.017),(0.0796,0.0168),(0.0794,0.024),
    (0.0790,0.023),(0.0791,0.0168),(0.0788,0.0139),(0.0783,0.025),(0.0784,0.028),(0.0781,0.027),(0.0780,0.024),(0.0780,0.0155),
    (0.0781,0.0122),(0.0779,0.021),(0.0779,0.0111),(0.0775,0.027),(0.0774,0.027),(0.0770,0.024),(0.0771,0.021),(0.0771,0.0113),
    (0.0768,0.0155),(0.0765,0.0118),(0.0763,0.0109),(0.0764,8.9e-3),(0.0772,8.9e-3),(0.0756,0.016),(0.0755,0.0164),
    (0.0753,0.0155),(0.0752,0.0131),(0.0753,0.023),(0.0752,0.027),(0.0751,0.025),(0.0749,0.023),(0.0748,0.025),(0.0747,0.023),
    (0.0745,0.022),(0.0744,0.022),(0.0743,0.021),(0.0744,0.028),(0.0742,0.026),(0.0739,0.027),(0.0740,0.023),(0.0733,0.027),
    (0.0734,0.022),(0.0736,0.019),(0.0743,0.0155),(0.0745,0.015),(0.0746,0.0113),(0.0747,0.0101),(0.0735,0.0107),
    (0.0736,9.6e-3),(0.0730,0.0129),(0.0727,0.0155),(0.0724,0.019),(0.0722,0.019),(0.0720,0.017),(0.0715,0.029),(0.0716,0.026),
    (0.0713,0.027),(0.0712,0.028),(0.0714,0.019),(0.0710,0.018),(0.0708,0.020),(0.0706,0.021),(0.0709,0.022),(0.0707,0.022),
    (0.0715,0.0146),(0.0718,0.0107),(0.0720,0.0101),(0.0716,8.0e-3),(0.0718,6.6e-3),(0.0722,6.7e-3),(0.0724,6.5e-3),
    (0.0726,8.9e-3),(0.0727,4.0e-3),(0.0734,5.7e-3),(0.0737,4.2e-3),(0.0740,3.8e-3),(0.0712,3.8e-3),(0.0702,4.6e-3),
    (0.0705,5.3e-3),(0.0700,0.017),(0.0698,0.0129),(0.0697,0.0142),(0.0694,0.026),(0.0699,9.3e-3),(0.0700,8.9e-3),
    (0.0692,0.0116),(0.0693,0.0116),(0.0691,5.9e-3),(0.0690,6.6e-3),(0.0689,7.2e-3),(0.0688,6.8e-3),(0.0687,6.3e-3),
    (0.0686,0.018),(0.0686,0.0118),(0.0681,0.0168),(0.0680,0.0164),(0.0683,4.8e-3),(0.0684,4.1e-3),(0.0682,3.7e-3),
    (0.0680,8.3e-3),(0.0679,9.7e-3),(0.0678,9.9e-3),(0.0677,0.015),(0.0675,0.0133),(0.0673,0.028),(0.0674,0.027),(0.0673,0.023),
    (0.0673,0.020),(0.0677,0.020),(0.0673,4.7e-3),(0.0671,0.0099),(0.0669,7.2e-3),(0.0668,7.6e-3),(0.0666,0.0142),
    (0.0664,0.024),(0.0666,8.4e-3),(0.0661,0.019),(0.0658,0.017),(0.0657,0.017),(0.0656,0.015),(0.0654,0.015),(0.0656,0.0109),
    (0.0656,0.0099),(0.0656,8.3e-3),(0.0654,4.4e-3),(0.0655,4.1e-3),(0.0653,3.7e-3),(0.0657,6.0e-3),(0.0658,5.9e-3),
    (0.0659,6.6e-3),(0.0661,4.4e-3),(0.0660,3.1e-3),(0.0659,2.7e-3),(0.0660,2.5e-3),(0.0651,7.2e-3),(0.0652,4.4e-3),
    (0.0651,2.9e-3),(0.0649,0.0113),(0.0646,9.3e-3),(0.0646,0.021),(0.0647,0.023),(0.0645,0.020),(0.0640,0.018),(0.0639,0.0168),
    (0.0636,0.0168),(0.0640,0.0111),(0.0639,7.5e-3),(0.0640,6.8e-3),(0.0641,5.5e-3),(0.0639,4.9e-3),(0.0642,5.3e-3),
    (0.0642,4.6e-3),(0.0636,9.7e-3),(0.0637,4.0e-3),(0.0634,2.9e-3),(0.0632,0.018),(0.0631,0.023),(0.0633,0.026),(0.0629,0.0165),
    (0.0627,0.0113),(0.0626,0.0145),(0.0624,0.0109),(0.0623,0.0129),(0.0621,9.7e-3),(0.0620,8.3e-3),(0.0621,7.9e-3),
    (0.0620,7.6e-3),(0.0621,6.8e-3),(0.0620,6.1e-3),(0.0620,4.5e-3),(0.0621,4.4e-3),(0.0624,4.4e-3),(0.0620,3.1e-3),
    (0.0616,0.0107),(0.0619,0.0101),(0.0613,9.7e-3),(0.0610,3.4e-3),(0.0609,4.5e-3),(0.0607,4.6e-3),(0.0607,5.6e-3),
    (0.0608,0.018),(0.0605,8.3e-3),(0.0602,0.0113),(0.0601,0.0109),(0.0603,0.0102),(0.0601,9.3e-3),(0.0601,3.8e-3),
    (0.0598,6.6e-3),(0.0596,0.0164),(0.0592,0.021),(0.0587,0.018),(0.0591,0.016),(0.0595,0.0133),(0.0595,3.0e-3),
    (0.0591,5.0e-3),(0.0591,6.4e-3),(0.0587,0.0122),(0.0585,0.0129),(0.0587,3.7e-3),(0.0584,0.015),(0.0582,0.015),
    (0.0580,0.0155),(0.0577,0.0165),(0.0575,0.0164),(0.0579,3.0e-3),(0.0575,6.1e-3),(0.0575,5.3e-3),(0.0574,4.6e-3),
    (0.0574,3.7e-3),(0.0572,6.1e-3),(0.0570,7.1e-3),(0.0570,6.5e-3),(0.0569,8.3e-3),(0.0571,2.4e-3),(0.0569,0.018),
    (0.0567,0.0109),(0.0567,9.3e-3),(0.0566,8.5e-3),(0.0567,3.7e-3),(0.0569,2.0e-3),(0.0565,0.0168),(0.0564,0.021),
    (0.0565,0.0121),(0.0565,6.1e-3),(0.0566,5.4e-3),(0.0560,0.0107),(0.0559,0.015),(0.0556,0.015),(0.0560,2.3e-3),
    (0.0553,3.4e-3),(0.0554,6.2e-3),(0.0552,7.0e-3),(0.0551,4.9e-3),(0.0550,4.6e-3),(0.0549,3.7e-3),(0.0548,4.0e-3),
    (0.0547,5.2e-3),(0.0545,6.2e-3),(0.0545,5.2e-3),(0.0545,3.2e-3),(0.0545,2.5e-3),(0.0545,1.7e-3),(0.0550,1.4e-3),
    (0.0566,1.18e-3),(0.0562,6.6e-4),(0.0568,4.5e-4),(0.0557,3.7e-4),(0.0576,6.2e-4),(0.0579,5.7e-4),(0.0583,2.6e-4),
    (0.0584,2.3e-4),(0.0592,3.2e-4),(0.0578,1.8e-4),(0.0591,1.6e-4),(0.0600,1.4e-4),(0.0590,1.15e-3),(0.0596,1.4e-3),
    (0.0602,1.15e-3),(0.0604,1.06e-3),(0.0611,1.0e-3),(0.0610,8.8e-4),(0.0633,7.0e-4),(0.0636,6.4e-4),(0.0638,3.9e-4),
    (0.0639,1.9e-3),(0.0643,2.0e-3),(0.0645,1.5e-3),(0.0649,1.45e-3),(0.0648,8.6e-4),(0.0650,5.7e-4),(0.0663,4.4e-4),
    (0.0664,1.5e-3),(0.0674,1.9e-3),(0.0684,1.4e-3),(0.0687,1.5e-3),(0.0685,9.2e-4),(0.0695,3.3e-4),(0.0704,1.9e-4),
    (0.0714,7.1e-4),(0.0722,1.45e-3),(0.0725,1.8e-4),(0.0727,4.1e-5),(0.0740,1.7e-5),(0.0735,1.3e-5),(0.0655,4.8e-6),
    (0.0749,7.1e-4),(0.0753,1.1e-3),(0.0761,1.7e-3),(0.0766,2.5e-4),(0.0770,8.3e-4),(0.0771,1.65e-3),(0.0774,1.55e-3),
    (0.0775,8.6e-4),(0.0781,8.4e-4),(0.0786,1.55e-3),(0.0789,7.1e-4),(0.0792,1.8e-3),(0.0797,1.7e-3),(0.0804,1.4e-3),
    (0.0810,1.65e-3),(0.0815,1.55e-3),(0.0817,2.2e-4),(0.0819,7.1e-4),(0.0821,4.6e-4),(0.0823,3.9e-4),(0.0827,1.4e-4),
    (0.0846,1.15e-4),(0.0834,8.8e-4),(0.0840,1.2e-3),(0.0853,1.6e-3),(0.0865,4.9e-4),(0.0867,2.6e-4),(0.0872,6.2e-4),
    (0.0876,4.1e-4),(0.0878,1.2e-3),(0.0886,1.35e-3),(0.0892,6.8e-4),(0.0906,2.5e-3),(0.0909,6.5e-4),(0.0919,1.9e-3),
    (0.0920,1.1e-3),(0.0921,1.4e-3),(0.0938,5.6e-5),(0.0939,1.55e-3),(0.0944,1.2e-3),(0.0959,4.1e-4),(0.0964,2.0e-3),
    (0.0965,1.8e-3),(0.0970,1.05e-3),(0.0972,6.5e-4),(0.0982,1.15e-3),(0.0983,2.2e-3),(0.0987,6.3e-4),(0.0986,5.5e-5),
    (0.0988,1.9e-3),(0.0978,4.1e-3),
    (0.0766,6.6e-3),(0.0770,5.7e-3),(0.0779,5.8e-3),(0.0780,5.2e-3),(0.0784,4.4e-3),(0.0789,3.9e-3),(0.0790,3.3e-3),
    (0.0792,2.8e-3),(0.0794,4.2e-3),(0.0797,3.9e-3),(0.0801,5.1e-3),(0.0807,3.8e-3),(0.0812,8.9e-3),(0.0805,8.4e-3),
    (0.0815,3.0e-3),(0.0825,3.3e-3),(0.0826,3.1e-3),(0.0831,2.7e-3),(0.0832,2.3e-3),(0.0835,5.5e-3),(0.0836,5.3e-3),
    (0.0838,3.9e-3),(0.0841,6.1e-3),(0.0843,3.7e-3),(0.0845,3.1e-3),(0.0846,3.3e-3),(0.0853,3.0e-3),(0.0850,6.7e-3),
    (0.0857,5.5e-3),(0.0859,6.7e-3),(0.0842,2.4e-3),(0.0770,3.4e-3),(0.0775,2.3e-3),(0.0776,2.8e-3),(0.0783,2.8e-3),
    (0.0790,3.0e-3),(0.0751,6.7e-3),(0.0753,5.2e-3),(0.0747,3.1e-3),(0.0744,6.0e-3),(0.0739,4.0e-3),(0.0736,2.3e-3),
    (0.0726,2.3e-3),(0.0727,2.2e-3),(0.0712,2.2e-3),(0.0697,3.1e-3),(0.0690,2.9e-3),(0.0691,2.7e-3),(0.0688,2.4e-3),
    (0.0672,3.8e-3),(0.0669,3.1e-3),(0.0877,1.8e-3),(0.0880,2.7e-3),(0.0883,2.7e-3),(0.0885,2.7e-3),(0.0887,3.3e-3),
    (0.0889,4.0e-3),(0.0890,3.7e-3),(0.0892,3.6e-3),(0.0893,3.1e-3),(0.0891,2.7e-3),(0.0886,4.4e-3),(0.0886,3.9e-3),
    (0.0882,3.9e-3),(0.0881,3.9e-3),(0.0878,4.7e-3),(0.0923,2.7e-3),(0.0926,4.2e-3),(0.0932,4.7e-3),(0.0931,4.7e-3),
    (0.0920,5.6e-3),(0.0916,5.3e-3),(0.0913,9.4e-3),(0.0917,8.9e-3),(0.0910,9.2e-3),(0.0902,7.8e-3),(0.0900,6.0e-3),
]

panels = [
    (a_points, "Predicted a_nont", "True Label AU"),
    (m_points, "Predicted m_nont", "True Label M_Earth"),
    (e_points, "Predicted e_nont", "True Label"),
]

fig, axes = plt.subplots(7, 2, figsize=(20.5, 43.03))
fig.subplots_adjust(left=0.0445, right=0.9898, top=0.9921, bottom=0.0079, wspace=0.2, hspace=0.2)
axes = axes.flatten()

for ax, (pts, title, xlabel) in zip(axes, panels):
    xs = [p[0] for p in pts]
    ys = [p[1] for p in pts]
    ax.scatter(xs, ys, s=8, alpha=0.6, color="#1f77b4", edgecolors="white", linewidths=0.4)
    ax.set_yscale("log")
    ax.set_title(title, fontsize=15)
    ax.set_xlabel(xlabel, fontsize=15)
    ax.set_ylabel("Abs Difference", fontsize=15)
    ax.tick_params(axis="both", labelsize=14)

fig.savefig("out.png", dpi=100)
